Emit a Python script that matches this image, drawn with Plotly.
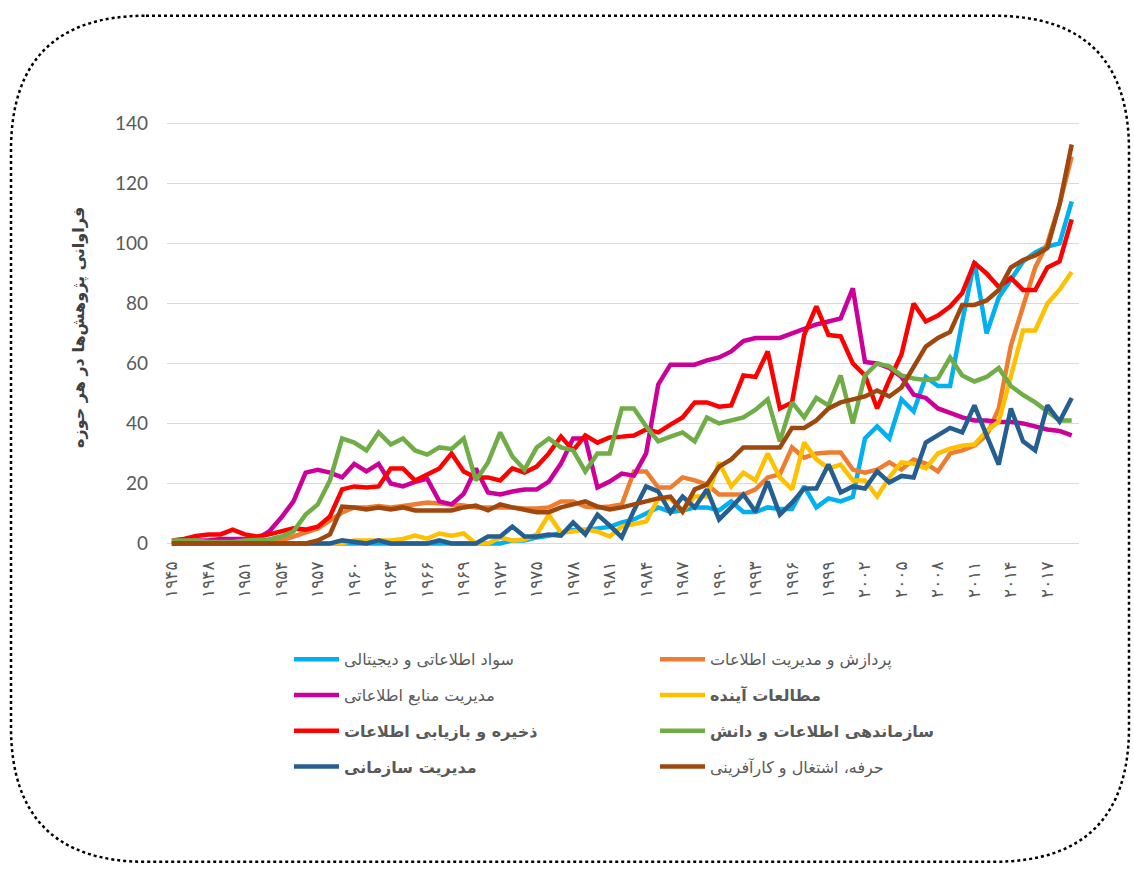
import plotly.graph_objects as go

years = list(range(1945, 2020))

tick_years = [1945, 1948, 1951, 1954, 1957, 1960, 1963, 1966, 1969, 1972, 1975, 1978, 1981,
              1984, 1987, 1990, 1993, 1996, 1999, 2002, 2005, 2008, 2011, 2014, 2017]
tick_labels = ["۱۹۴۵", "۱۹۴۸", "۱۹۵۱", "۱۹۵۴", "۱۹۵۷", "۱۹۶۰", "۱۹۶۳", "۱۹۶۶", "۱۹۶۹", "۱۹۷۲",
               "۱۹۷۵", "۱۹۷۸", "۱۹۸۱", "۱۹۸۴", "۱۹۸۷", "۱۹۹۰", "۱۹۹۳", "۱۹۹۶", "۱۹۹۹", "۲۰۰۲",
               "۲۰۰۵", "۲۰۰۸", "۲۰۱۱", "۲۰۱۴", "۲۰۱۷"]

literacy = [0, 0, 0, 0, 0, 0, 0, 0, 0, 0,
            0, 0, 0, 0, 0, 0, 0, 0, 0, 0,
            0, 0, 0, 0, 0, 0, 0, 0, 1, 1,
            2, 2.5, 3.5, 4.5, 4.5, 5, 5.5, 7, 8, 10,
            12, 10.5, 11, 12, 12, 11, 14, 10.5, 10.5, 12,
            11.5, 11.5, 19, 12, 15, 14, 15.5, 35, 39, 35,
            48, 44, 55.5, 52.5, 52.5, 74, 94, 70, 82, 88,
            94, 97, 99, 100, 114]

processing = [0, 0, 0, 0, 0, 0, 0, 0, 0.5, 1,
              2.3, 3.6, 5, 7.6, 10.3, 12, 12, 12.5, 12, 12.5,
              13, 13.6, 13.3, 13, 12.6, 12, 12, 12, 12, 11.6,
              11.6, 12, 14, 14, 12.3, 12, 12.3, 13, 24, 24,
              18.6, 18.6, 22, 21, 19.6, 16.3, 16.3, 16.3, 18, 22,
              23, 32, 28.6, 30, 30.3, 30.3, 24.6, 23.6, 24.6, 27,
              24.6, 28, 26.6, 24, 30, 31, 32.6, 36, 45, 66,
              79, 92, 100, 113, 129]

resources = [0, 0.5, 1, 1, 1.5, 1.5, 1.5, 1.5, 4, 8.6,
             14, 23.6, 24.5, 23.6, 22, 26.5, 24, 26.5, 20, 19,
             20.5, 21.5, 14, 13, 16.5, 25, 17, 16.3, 17.3, 18,
             18, 20.6, 26.6, 35, 35, 18.6, 20.6, 23.3, 22.6, 30,
             53, 59.6, 59.6, 59.6, 61, 62, 64, 67.5, 68.5, 68.5,
             68.5, 70, 71.5, 73, 74, 75, 85, 60.5, 60, 58.5,
             55.5, 49.6, 48.5, 45, 43.5, 42, 41, 41, 40.5, 40.5,
             40, 39, 38, 37.5, 36]

futures = [0, 0, 0, 0, 0, 0, 0, 0, 0, 0,
           0, 0, 0, 0, 0, 1, 1, 1, 1, 1.5,
           2.6, 1.6, 3.3, 2.6, 3.3, 0, 0, 2, 1, 1.3,
           3, 9.5, 3.6, 4, 4.6, 4, 2.3, 5.6, 6.3, 7.3,
           15, 15, 10.6, 15.6, 15.6, 27, 19, 23.6, 21, 30,
           22, 18, 33.6, 28, 25, 26.3, 21, 21, 15.6, 22,
           27, 26.6, 25, 30, 31.6, 32.6, 33, 37.5, 40.6, 56,
           71, 71, 80, 84.6, 90.5]

retrieval = [1, 1.5, 2.5, 3, 3, 4.6, 3, 2.3, 3, 4,
             5, 4.6, 5.6, 9, 18, 19, 18.6, 19, 25, 25,
             21, 23, 25, 30, 24, 22, 22, 21, 25, 23.6,
             25.6, 30, 35.6, 31, 36, 33.6, 35.3, 35.6, 36, 38,
             37, 39.6, 42, 47, 47, 45.6, 46, 56, 55.5, 64,
             45, 47, 69.5, 79, 69.5, 69, 60, 56, 45, 54.5,
             63, 80, 74, 76, 79, 83.5, 93.5, 90, 85.5, 88.5,
             84.5, 84.5, 92, 94, 108]

organization = [1, 1, 1, 0.5, 0.5, 0.5, 1, 1, 1.3, 2.3,
                4, 9.6, 13, 21, 35, 33.6, 31, 37, 33, 35,
                31, 29.6, 32, 31.5, 35, 21, 27, 37, 29, 24.6,
                32, 35, 32, 31, 24, 30, 30, 45, 45, 39,
                34, 35.6, 37, 34, 42, 40, 41, 42, 44.6, 48,
                34, 47, 42, 48.5, 46, 56, 40, 56, 60, 59,
                56, 55, 54.5, 55, 62, 56, 54, 55.5, 58.5, 52.5,
                49.5, 47, 44, 41, 41]

management = [0, 0, 0, 0, 0, 0, 0, 0, 0, 0,
              0, 0, 0, 0, 1, 0.5, 0, 1, 0, 0,
              0, 0, 1, 0, 0, 0, 2.3, 2.3, 5.6, 2.3,
              2.3, 3, 2.6, 7, 3, 9.6, 6, 2, 11, 19,
              17.3, 10.3, 15.6, 12, 18, 8, 12, 16.3, 10.6, 20.6,
              9.6, 13.6, 18.3, 18.3, 26.3, 17, 19, 18.3, 24, 20.3,
              22.5, 22, 33.6, 36, 38.5, 37, 46, 36, 26.3, 45,
              34, 31, 46, 40.6, 48.5]

career = [0, 0, 0, 0, 0, 0, 0, 0, 0, 0,
          0, 0, 1, 3, 12.3, 12, 11.3, 12, 11.3, 12,
          11, 11, 11, 11, 12, 12.6, 11, 13, 12, 11.3,
          10.4, 10.4, 12, 13, 14, 12.3, 11.3, 12, 13, 14,
          15, 15.6, 10.6, 18, 19.6, 25.6, 28, 32, 32, 32,
          32, 38.5, 38.5, 41, 45, 47, 48, 49, 51, 49,
          52, 58.5, 65.6, 68.5, 70.5, 79.5, 79.5, 81, 84.5, 92,
          94.5, 96, 98.5, 113, 133]

series = [
    ("سواد اطلاعاتی و دیجیتالی", literacy, "#00B0F0", "legend"),
    ("پردازش و مدیریت اطلاعات", processing, "#ED7D31", "legend2"),
    ("مدیریت منابع اطلاعاتی", resources, "#CC0099", "legend"),
    ("<b>مطالعات آینده</b>", futures, "#FFC000", "legend2"),
    ("<b>ذخیره و بازیابی اطلاعات</b>", retrieval, "#FF0000", "legend"),
    ("<b>سازماندهی اطلاعات و دانش</b>", organization, "#70AD47", "legend2"),
    ("<b>مدیریت سازمانی</b>", management, "#255E91", "legend"),
    ("حرفه، اشتغال و کارآفرینی", career, "#9E480E", "legend2"),
]

W, H = 1134, 870
L, R, T, B = 167, 55, 121.5, 322.5
PW, PH = W - L - R, H - T - B


def px(x):
    return (x - L) / PW


def py(y):
    return (H - B - y) / PH


fig = go.Figure()
for i, (name, vals, color, lg) in enumerate(series):
    fig.add_trace(go.Scatter(
        x=years, y=vals, name=name, mode="lines",
        line=dict(color=color, width=4.5),
        legend=lg, legendgroup="g%d" % i,
    ))

# dotted rounded frame
x0, x1, y0, y1, r = 11, 1129, 15, 863, 135


def P(x, y):
    return "%.5f,%.5f" % (px(x), py(y))


path = ("M" + P(x0 + r, y0) + " L" + P(x1 - r, y0) +
        " Q" + P(x1, y0) + " " + P(x1, y0 + r) +
        " L" + P(x1, y1 - r) +
        " Q" + P(x1, y1) + " " + P(x1 - r, y1) +
        " L" + P(x0 + r, y1) +
        " Q" + P(x0, y1) + " " + P(x0, y1 - r) +
        " L" + P(x0, y0 + r) +
        " Q" + P(x0, y0) + " " + P(x0 + r, y0) + " Z")
fig.add_shape(type="path", path=path, xref="paper", yref="paper",
              line=dict(color="black", width=2.5, dash="dot"), layer="below")

fig.add_annotation(
    text="<b>فراوانی پژوهش‌ها در هر حوزه</b>", textangle=-90,
    x=px(79), y=py(328), xref="paper", yref="paper", showarrow=False,
    xanchor="center", yanchor="middle",
    font=dict(family="DejaVu Sans", size=16, color="#404040"),
)

legend_common = dict(
    orientation="v", xanchor="left", yanchor="top", bgcolor="rgba(0,0,0,0)",
    font=dict(family="DejaVu Sans", size=16, color="#595959"),
    tracegroupgap=12, itemwidth=45,
)

fig.update_layout(
    width=W, height=H, autosize=False,
    margin=dict(l=L, r=R, t=T, b=B),
    paper_bgcolor="white", plot_bgcolor="white",
    xaxis=dict(range=[1944.6, 2019.6], tickmode="array", tickvals=tick_years,
               ticktext=tick_labels, tickangle=-90, showgrid=False, zeroline=False,
               showline=False, ticks="", ticklabelstandoff=10,
               tickfont=dict(family="DejaVu Sans", size=17, color="#595959")),
    yaxis=dict(range=[-1.2, 140.5], tickmode="array", tickvals=[0, 20, 40, 60, 80, 100, 120, 140],
               showgrid=True, gridcolor="#D9D9D9", gridwidth=1.3, zeroline=False,
               showline=False, ticks="", ticklabelstandoff=18,
               tickfont=dict(family="Lato", size=19, color="#595959")),
    legend=dict(x=px(289), y=py(643), **legend_common),
    legend2=dict(x=px(655), y=py(643), **legend_common),
    showlegend=True,
)

fig.write_html("out.html", config={"displayModeBar": False},
               post_script="document.body.style.margin='0';document.body.style.overflow='hidden';")
